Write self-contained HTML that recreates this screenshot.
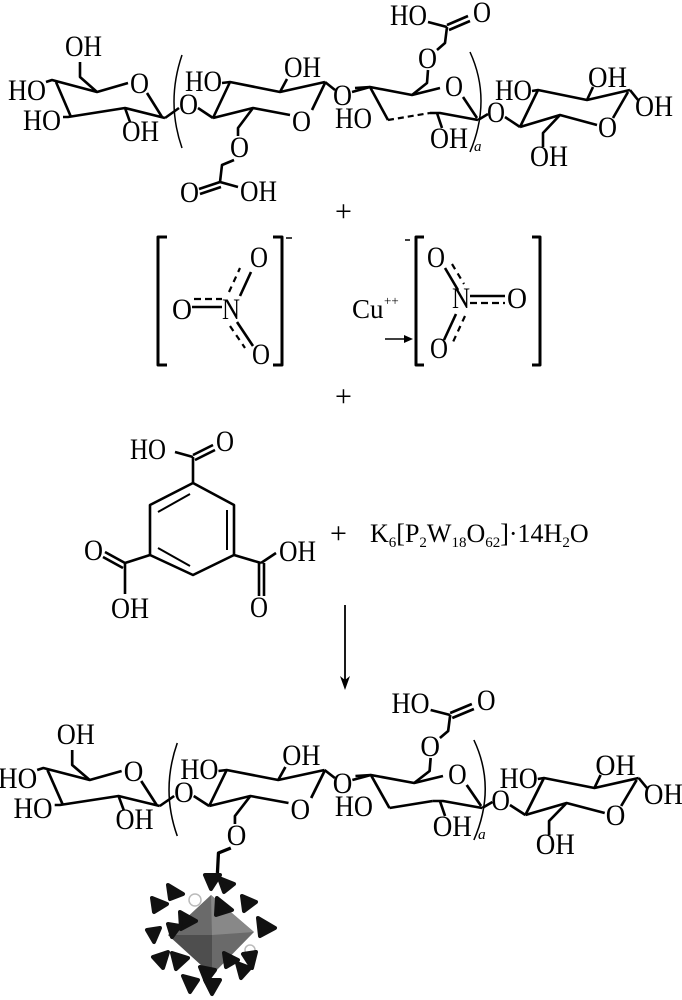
<!DOCTYPE html>
<html><head><meta charset="utf-8"><style>
html,body{margin:0;padding:0;background:#fff;}
svg{display:block;}
text{font-family:"Liberation Serif",serif;font-size:30px;fill:#000;}
.b{stroke:#000;stroke-width:2.6;fill:none;stroke-linejoin:round;}
.t{stroke:#000;stroke-width:1.5;fill:none;}
.d{stroke:#000;stroke-width:2.2;fill:none;stroke-dasharray:6,4;}
</style></head><body>
<svg width="682" height="1000" viewBox="0 0 682 1000" xmlns="http://www.w3.org/2000/svg">

<!-- TOP MOLECULE -->
<g>
<text x="65" y="56" textLength="37" lengthAdjust="spacingAndGlyphs">OH</text>
<text x="8" y="100" textLength="38" lengthAdjust="spacingAndGlyphs">HO</text>
<text x="130" y="93" textLength="19" lengthAdjust="spacingAndGlyphs">O</text>
<text x="23" y="130" textLength="38" lengthAdjust="spacingAndGlyphs">HO</text>
<text x="122" y="141" textLength="37" lengthAdjust="spacingAndGlyphs">OH</text>
<text x="179" y="114" textLength="19" lengthAdjust="spacingAndGlyphs">O</text>
<text x="185" y="91" textLength="37" lengthAdjust="spacingAndGlyphs">HO</text>
<text x="284" y="77" textLength="37" lengthAdjust="spacingAndGlyphs">OH</text>
<text x="292" y="131" textLength="19" lengthAdjust="spacingAndGlyphs">O</text>
<text x="333" y="105" textLength="19" lengthAdjust="spacingAndGlyphs">O</text>
<text x="390" y="25" textLength="37" lengthAdjust="spacingAndGlyphs">HO</text>
<text x="473" y="22" textLength="18" lengthAdjust="spacingAndGlyphs">O</text>
<text x="418" y="68" textLength="19" lengthAdjust="spacingAndGlyphs">O</text>
<text x="445" y="96" textLength="18" lengthAdjust="spacingAndGlyphs">O</text>
<text x="335" y="128" textLength="37" lengthAdjust="spacingAndGlyphs">HO</text>
<text x="430" y="148" textLength="38" lengthAdjust="spacingAndGlyphs">OH</text>
<text x="474" y="151" style="font-size:15px;font-style:italic">a</text>
<text x="487" y="122" textLength="18" lengthAdjust="spacingAndGlyphs">O</text>
<text x="495" y="100" textLength="37" lengthAdjust="spacingAndGlyphs">HO</text>
<text x="588" y="87" textLength="39" lengthAdjust="spacingAndGlyphs">OH</text>
<text x="635" y="116" textLength="38" lengthAdjust="spacingAndGlyphs">OH</text>
<text x="598" y="137" textLength="19" lengthAdjust="spacingAndGlyphs">O</text>
<text x="530" y="166" textLength="38" lengthAdjust="spacingAndGlyphs">OH</text>
<polyline class="b" points="46,82 52,80 97,92 128,83"/>
<polyline class="b" points="63,117 68,117 125,108 165,118"/>
<line class="b" x1="56" y1="82" x2="71" y2="117"/>
<line class="b" x1="147" y1="93" x2="162" y2="117"/>
<line class="b" x1="125" y1="108" x2="130" y2="122"/>
<polyline class="b" points="97,92 80,77 80,62"/>
<path class="t" d="M182,55 Q166,102 182,148"/>
<line class="b" x1="165" y1="118" x2="179" y2="108"/>
<line class="b" x1="198" y1="108" x2="213" y2="118"/>
<polyline class="b" points="222,83 230,82 280,92 325,82"/>
<polyline class="b" points="213,118 253,108 290,115"/>
<line class="b" x1="230" y1="82" x2="213" y2="118"/>
<line class="b" x1="325" y1="83" x2="312" y2="110"/>
<line class="b" x1="280" y1="92" x2="287" y2="79"/>
<line class="b" x1="325" y1="82" x2="335" y2="90"/>
<line class="b" x1="352" y1="92" x2="370" y2="87"/>
<polyline class="b" points="355,88 370,87 412,95 440,88"/>
<line class="b" x1="370" y1="87" x2="388" y2="120"/>
<line class="d" x1="388" y1="120" x2="430" y2="113"/>
<polyline class="b" points="430,113 440,113 478,120"/>
<line class="b" x1="463" y1="97" x2="477" y2="118"/>
<line class="b" x1="437" y1="113" x2="442" y2="128"/>
<polyline class="b" points="412,95 427,83 428,70"/>
<polyline class="b" points="437,50 445,43 447,27"/>
<line class="b" x1="428" y1="22" x2="447" y2="27"/>
<line class="b" x1="447" y1="25" x2="468" y2="16"/>
<line class="b" x1="449" y1="30" x2="470" y2="21"/>
<path class="t" d="M470,52 Q492,100 470,152"/>
<line class="b" x1="478" y1="120" x2="488" y2="114"/>
<line class="b" x1="505" y1="117" x2="520" y2="127"/>
<polyline class="b" points="532,91 538,90 587,100 630,90"/>
<polyline class="b" points="520,127 560,115 597,125"/>
<line class="b" x1="538" y1="90" x2="520" y2="127"/>
<line class="b" x1="613" y1="118" x2="628" y2="92"/>
<line class="b" x1="587" y1="100" x2="593" y2="87"/>
<line class="b" x1="630" y1="90" x2="638" y2="100"/>
<polyline class="b" points="560,115 543,133 543,147"/>
<polyline class="b" points="253,108 238,128 238,136"/>
<polyline class="b" points="234,160 222,165 220,182"/>
<line class="b" x1="220" y1="182" x2="199" y2="189"/>
<line class="b" x1="221" y1="187" x2="200" y2="194"/>
<line class="b" x1="220" y1="182" x2="238" y2="187"/>
<text x="230" y="157" textLength="19" lengthAdjust="spacingAndGlyphs">O</text>
<text x="180" y="202" textLength="19" lengthAdjust="spacingAndGlyphs">O</text>
<text x="240" y="201" textLength="37" lengthAdjust="spacingAndGlyphs">OH</text>
</g>

<text x="335" y="221" style="font-size:30px">+</text>

<!-- nitrate 1 -->
<polyline class="b" points="167,237 158,237 158,365 167,365" style="stroke-width:3"/>
<polyline class="b" points="273,237 282,237 282,365 273,365" style="stroke-width:3"/>
<line class="t" x1="286" y1="238" x2="292" y2="238"/>
<text x="172" y="319" textLength="20" lengthAdjust="spacingAndGlyphs">O</text>
<text x="222" y="319" textLength="18" lengthAdjust="spacingAndGlyphs">N</text>
<text x="250" y="267" textLength="18" lengthAdjust="spacingAndGlyphs">O</text>
<text x="252" y="364" textLength="18" lengthAdjust="spacingAndGlyphs">O</text>
<line class="b" x1="192" y1="307" x2="222" y2="307"/>
<line class="d" x1="194" y1="299" x2="222" y2="299" style="stroke-dasharray:7,4"/>
<line class="b" x1="240" y1="296" x2="251" y2="272"/>
<line class="d" x1="229" y1="292" x2="240" y2="268" style="stroke-dasharray:6,5"/>
<line class="b" x1="237" y1="322" x2="253" y2="346"/>
<line class="d" x1="230" y1="326" x2="245" y2="348" style="stroke-dasharray:6,5"/>

<text x="352" y="318" style="font-size:27px">Cu</text>
<text x="384" y="305" style="font-size:13px">++</text>
<line class="t" x1="385" y1="339" x2="410" y2="339"/>
<polygon points="413,339 404,335 404,343"/>

<!-- nitrate 2 -->
<line class="t" x1="405" y1="240" x2="410" y2="240"/>
<polyline class="b" points="424,237 416,237 416,365 424,365" style="stroke-width:3"/>
<polyline class="b" points="532,237 540,237 540,365 532,365" style="stroke-width:3"/>
<text x="427" y="267" textLength="18" lengthAdjust="spacingAndGlyphs">O</text>
<text x="452" y="308" textLength="18" lengthAdjust="spacingAndGlyphs">N</text>
<text x="507" y="308" textLength="20" lengthAdjust="spacingAndGlyphs">O</text>
<text x="430" y="358" textLength="18" lengthAdjust="spacingAndGlyphs">O</text>
<line class="b" x1="470" y1="296" x2="505" y2="296"/>
<line class="d" x1="470" y1="303" x2="505" y2="303" style="stroke-dasharray:7,4"/>
<line class="b" x1="445" y1="268" x2="458" y2="290"/>
<line class="d" x1="452" y1="264" x2="464" y2="284" style="stroke-dasharray:6,5"/>
<line class="b" x1="456" y1="314" x2="444" y2="340"/>
<line class="d" x1="465" y1="316" x2="453" y2="342" style="stroke-dasharray:6,5"/>

<text x="335" y="406" style="font-size:30px">+</text>

<!-- trimesic acid -->
<polygon class="b" points="193,483 234,505 234,555 193,575 150,555 150,505"/>
<line class="t" x1="158" y1="512" x2="190" y2="494" style="stroke-width:2"/>
<line class="t" x1="227" y1="510" x2="227" y2="550" style="stroke-width:2"/>
<line class="t" x1="158" y1="548" x2="190" y2="566" style="stroke-width:2"/>
<line class="b" x1="193" y1="483" x2="193" y2="457"/>
<line class="b" x1="175" y1="452" x2="193" y2="457"/>
<line class="b" x1="193" y1="455" x2="213" y2="445"/>
<line class="b" x1="195" y1="460" x2="215" y2="450"/>
<text x="130" y="459" textLength="36" lengthAdjust="spacingAndGlyphs">HO</text>
<text x="216" y="451" textLength="18" lengthAdjust="spacingAndGlyphs">O</text>
<line class="b" x1="150" y1="555" x2="125" y2="563"/>
<line class="b" x1="125" y1="563" x2="105" y2="552"/>
<line class="b" x1="123" y1="568" x2="103" y2="557"/>
<line class="b" x1="125" y1="563" x2="125" y2="594"/>
<text x="84" y="560" textLength="19" lengthAdjust="spacingAndGlyphs">O</text>
<text x="111" y="618" textLength="38" lengthAdjust="spacingAndGlyphs">OH</text>
<line class="b" x1="234" y1="555" x2="261" y2="563"/>
<line class="b" x1="261" y1="563" x2="276" y2="553"/>
<line class="b" x1="259" y1="563" x2="259" y2="596"/>
<line class="b" x1="264" y1="563" x2="264" y2="596"/>
<text x="279" y="561" textLength="37" lengthAdjust="spacingAndGlyphs">OH</text>
<text x="250" y="617" textLength="18" lengthAdjust="spacingAndGlyphs">O</text>

<text x="330" y="543" style="font-size:30px">+</text>
<text x="370" y="542" style="font-size:26px">K<tspan style="font-size:15px" dy="5">6</tspan><tspan dy="-5">[P</tspan><tspan style="font-size:15px" dy="5">2</tspan><tspan dy="-5">W</tspan><tspan style="font-size:15px" dy="5">18</tspan><tspan dy="-5">O</tspan><tspan style="font-size:15px" dy="5">62</tspan><tspan dy="-5">]·14H</tspan><tspan style="font-size:15px" dy="5">2</tspan><tspan dy="-5">O</tspan></text>

<line class="t" x1="345" y1="605" x2="345" y2="684" style="stroke-width:1.8"/>
<polygon points="345,690 340,676 345,680 350,676"/>

<!-- BOTTOM MOLECULE -->
<g transform="matrix(1.03,0,0,1,-10.2,688)">
<text x="65" y="56" textLength="37" lengthAdjust="spacingAndGlyphs">OH</text>
<text x="8" y="100" textLength="38" lengthAdjust="spacingAndGlyphs">HO</text>
<text x="130" y="93" textLength="19" lengthAdjust="spacingAndGlyphs">O</text>
<text x="23" y="130" textLength="38" lengthAdjust="spacingAndGlyphs">HO</text>
<text x="122" y="141" textLength="37" lengthAdjust="spacingAndGlyphs">OH</text>
<text x="179" y="114" textLength="19" lengthAdjust="spacingAndGlyphs">O</text>
<text x="185" y="91" textLength="37" lengthAdjust="spacingAndGlyphs">HO</text>
<text x="284" y="77" textLength="37" lengthAdjust="spacingAndGlyphs">OH</text>
<text x="292" y="131" textLength="19" lengthAdjust="spacingAndGlyphs">O</text>
<text x="333" y="105" textLength="19" lengthAdjust="spacingAndGlyphs">O</text>
<text x="390" y="25" textLength="37" lengthAdjust="spacingAndGlyphs">HO</text>
<text x="473" y="22" textLength="18" lengthAdjust="spacingAndGlyphs">O</text>
<text x="418" y="68" textLength="19" lengthAdjust="spacingAndGlyphs">O</text>
<text x="445" y="96" textLength="18" lengthAdjust="spacingAndGlyphs">O</text>
<text x="335" y="128" textLength="37" lengthAdjust="spacingAndGlyphs">HO</text>
<text x="430" y="148" textLength="38" lengthAdjust="spacingAndGlyphs">OH</text>
<text x="474" y="151" style="font-size:15px;font-style:italic">a</text>
<text x="487" y="122" textLength="18" lengthAdjust="spacingAndGlyphs">O</text>
<text x="495" y="100" textLength="37" lengthAdjust="spacingAndGlyphs">HO</text>
<text x="588" y="87" textLength="39" lengthAdjust="spacingAndGlyphs">OH</text>
<text x="635" y="116" textLength="38" lengthAdjust="spacingAndGlyphs">OH</text>
<text x="598" y="137" textLength="19" lengthAdjust="spacingAndGlyphs">O</text>
<text x="530" y="166" textLength="38" lengthAdjust="spacingAndGlyphs">OH</text>
<polyline class="b" points="46,82 52,80 97,92 128,83"/>
<polyline class="b" points="63,117 68,117 125,108 165,118"/>
<line class="b" x1="56" y1="82" x2="71" y2="117"/>
<line class="b" x1="147" y1="93" x2="162" y2="117"/>
<line class="b" x1="125" y1="108" x2="130" y2="122"/>
<polyline class="b" points="97,92 80,77 80,62"/>
<path class="t" d="M182,55 Q166,102 182,148"/>
<line class="b" x1="165" y1="118" x2="179" y2="108"/>
<line class="b" x1="198" y1="108" x2="213" y2="118"/>
<polyline class="b" points="222,83 230,82 280,92 325,82"/>
<polyline class="b" points="213,118 253,108 290,115"/>
<line class="b" x1="230" y1="82" x2="213" y2="118"/>
<line class="b" x1="325" y1="83" x2="312" y2="110"/>
<line class="b" x1="280" y1="92" x2="287" y2="79"/>
<line class="b" x1="325" y1="82" x2="335" y2="90"/>
<line class="b" x1="352" y1="92" x2="370" y2="87"/>
<polyline class="b" points="355,88 370,87 412,95 440,88"/>
<line class="b" x1="370" y1="87" x2="388" y2="120"/>
<line class="b" x1="388" y1="120" x2="430" y2="113"/>
<polyline class="b" points="430,113 440,113 478,120"/>
<line class="b" x1="463" y1="97" x2="477" y2="118"/>
<line class="b" x1="437" y1="113" x2="442" y2="128"/>
<polyline class="b" points="412,95 427,83 428,70"/>
<polyline class="b" points="437,50 445,43 447,27"/>
<line class="b" x1="428" y1="22" x2="447" y2="27"/>
<line class="b" x1="447" y1="25" x2="468" y2="16"/>
<line class="b" x1="449" y1="30" x2="470" y2="21"/>
<path class="t" d="M470,52 Q492,100 470,152"/>
<line class="b" x1="478" y1="120" x2="488" y2="114"/>
<line class="b" x1="505" y1="117" x2="520" y2="127"/>
<polyline class="b" points="532,91 538,90 587,100 630,90"/>
<polyline class="b" points="520,127 560,115 597,125"/>
<line class="b" x1="538" y1="90" x2="520" y2="127"/>
<line class="b" x1="613" y1="118" x2="628" y2="92"/>
<line class="b" x1="587" y1="100" x2="593" y2="87"/>
<line class="b" x1="630" y1="90" x2="638" y2="100"/>
<polyline class="b" points="560,115 543,133 543,147"/>
<polyline class="b" points="253,108 238,128 238,136"/>
<text x="230" y="157" textLength="19" lengthAdjust="spacingAndGlyphs">O</text>
<polyline class="b" points="234,160 222,165 221,185" style="stroke-width:3.2"/>
</g>

<!-- POM cluster -->
<g>
<polygon points="211,895 254,932 212,975 168,935" fill="#6a6a6a"/>
<polygon points="211,895 254,932 212,935" fill="#888"/>
<polygon points="168,935 212,935 212,975" fill="#4e4e4e"/>
<circle cx="195" cy="900" r="6" fill="none" stroke="#bbb" stroke-width="1.5"/>
<circle cx="250" cy="950" r="5" fill="none" stroke="#bbb" stroke-width="1.5"/>
<g fill="#111" stroke="#111" stroke-width="4" stroke-linejoin="round">
<polygon points="205,875 220,875 211,889"/>
<polygon points="219,878 234,884 224,892"/>
<polygon points="168,885 183,894 170,899"/>
<polygon points="152,898 167,904 154,912"/>
<polygon points="242,896 256,902 244,911"/>
<polygon points="217,898 232,910 216,915"/>
<polygon points="180,912 196,921 181,929"/>
<polygon points="258,918 275,928 260,936"/>
<polygon points="147,930 160,928 154,942"/>
<polygon points="168,924 180,926 172,937"/>
<polygon points="153,957 168,952 163,968"/>
<polygon points="172,953 188,958 176,969"/>
<polygon points="243,954 256,952 252,968"/>
<polygon points="224,953 238,960 226,967"/>
<polygon points="200,967 215,970 206,982"/>
<polygon points="183,976 198,980 190,992"/>
<polygon points="205,980 220,980 212,994"/>
<polygon points="237,963 250,968 241,978"/>
</g>
</g>
</svg>
</body></html>
